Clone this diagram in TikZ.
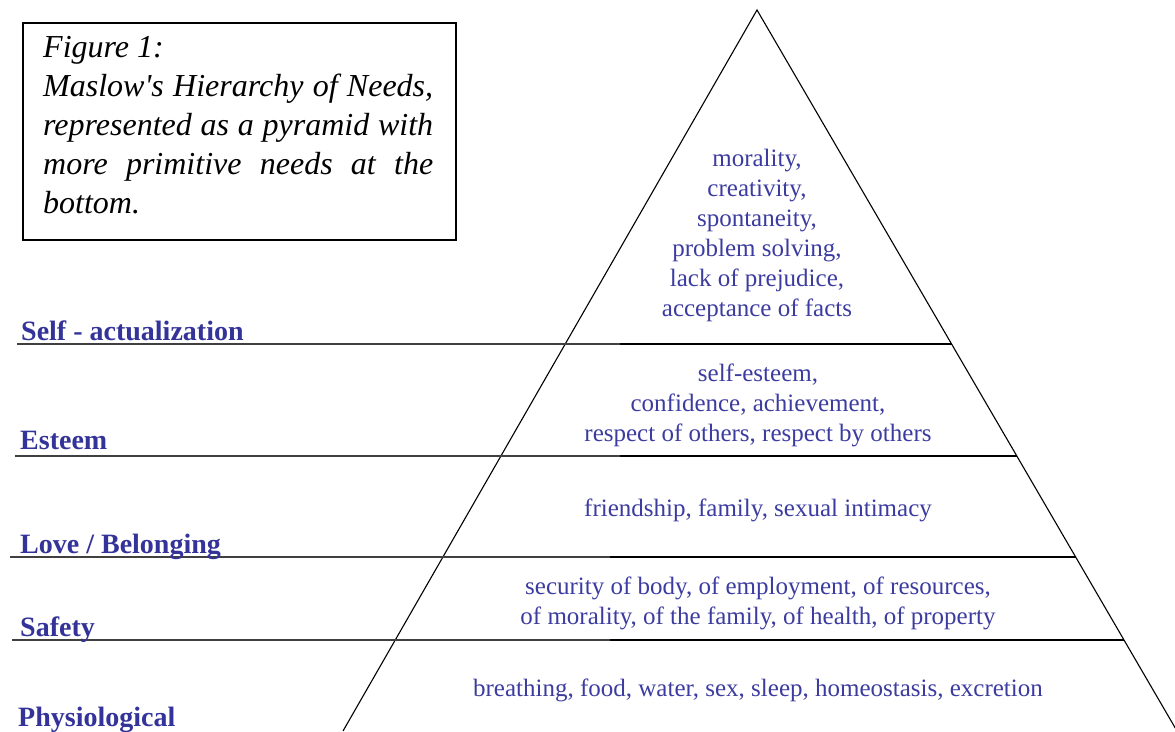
\documentclass[tikz,border=0pt]{standalone}
\usepackage{fontspec}
\setmainfont{Liberation Serif}
\usetikzlibrary{calc}
\definecolor{levelblue}{RGB}{51,51,153}
\definecolor{needblue}{RGB}{60,60,160}
\begin{document}
\begin{tikzpicture}[x=1pt,y=1pt,
  side/.style={line width=1.1pt, black},
  tier/.style={line width=1.6pt, black},
  guide/.style={line width=1.1pt, black!75},
  level/.style={anchor=base west, inner sep=0pt, text=levelblue,
    font=\fontsize{28}{33}\selectfont\bfseries},
  need/.style={inner sep=0pt, align=center, text=needblue,
    font=\fontsize{25}{29.9}\selectfont},
  capframe/.style={draw, line width=1.6pt, inner sep=0pt,
    minimum width=433pt, minimum height=217pt, anchor=north west},
  captext/.style={inner sep=0pt, align=left, anchor=north west,
    font=\fontsize{32}{39}\selectfont\itshape}]
\useasboundingbox (0,0) rectangle (1175,731);

% pyramid outline
\coordinate (apex) at (757,721);
\coordinate (bl) at (343,0);
\coordinate (br) at (1177,0);
\draw[side] (bl) -- (apex) -- (br);

% boundaries between the tiers
\foreach \name/\t in {sa/0.46325, es/0.61859, lb/0.75867, sf/0.87379} {
  \coordinate (\name-l) at ($(apex)!\t!(bl)$);
  \coordinate (\name-r) at ($(apex)!\t!(br)$);
  \draw[tier] (\name-l) -- (\name-r);
}

% rules under the level names
\foreach \name/\x/\y/\e in {sa/17/387/620, es/15/275/620, lb/10/174/610, sf/12/91/610} {
  \coordinate (\name-a) at (\x,\y);
  \coordinate (\name-b) at (\e,\y);
  \draw[guide] (\name-a) -- (\name-b);
}

% level names
\node[level] (lab-sa) at (21,390) {Self - actualization};
\node[level] (lab-es) at (20,281) {Esteem};
\node[level] (lab-lb) at (20,177) {Love / Belonging};
\node[level] (lab-sf) at (20,94) {Safety};
\node[level] (lab-ph) at (18,5) {Physiological};

% needs inside each tier
\node[need, anchor=north] (need-sa) at (757,582)
  {morality,\\creativity,\\spontaneity,\\problem solving,\\lack of prejudice,\\acceptance of facts};
\node[need, anchor=north] (need-es) at (758,367)
  {self-esteem,\\confidence, achievement,\\respect of others, respect by others};
\node[need, anchor=base] (need-lb) at (758,214)
  {friendship, family, sexual intimacy};
\node[need, anchor=north] (need-sf) at (758,154)
  {security of body, of employment, of resources,\\of morality, of the family, of health, of property};
\node[need, anchor=base] (need-ph) at (758,35)
  {breathing, food, water, sex, sleep, homeostasis, excretion};

% caption
\node[capframe] (capbox) at (22,709) {};
\node[captext] (captext) at (43,695)
  {Figure 1:\\
   \makebox[390pt][s]{Maslow\textquotesingle s Hierarchy of Needs,}\\
   \makebox[390pt][s]{represented as a pyramid with}\\
   \makebox[390pt][s]{more primitive needs at the}\\
   bottom.};
\end{tikzpicture}
\end{document}
